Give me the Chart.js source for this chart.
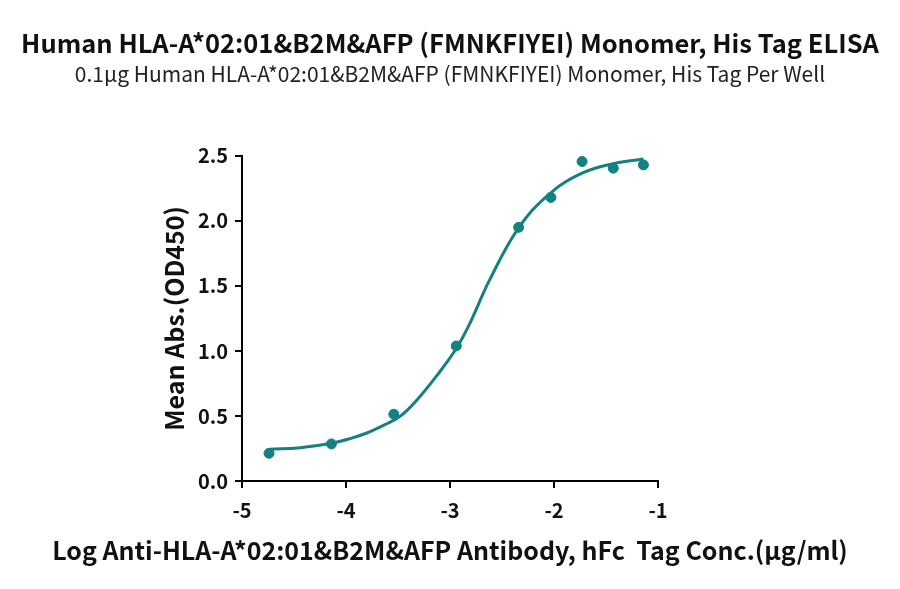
<!DOCTYPE html>
<html lang="en">
<head>
  <meta charset="UTF-8">
  <title>HLA-A*02:01&B2M&AFP ELISA</title>
  <style>
    body {
      margin: 0;
      background: #fff;
    }
    .chart-box {
      width: 900px;
      height: 589px;
    }
  </style>
</head>
<body>
  <div class="chart-box">
    <canvas id="elisaChart" width="900" height="589"></canvas>
  </div>

  <script src="https://cdn.jsdelivr.net/npm/chart.js"></script>
  <script>
    // measured points (log conc, OD450)
    const logConc = [-4.74, -4.14, -3.54, -2.94, -2.34, -2.03, -1.73, -1.43, -1.14];
    const meanAbs = [0.213, 0.285, 0.513, 1.038, 1.95, 2.18, 2.456, 2.405, 2.43];

    // fitted curve
    const fitX = [-4.73, -4.44, -4.14, -3.96, -3.80, -3.64, -3.48, -3.32, -3.10, -2.94, -2.81, -2.62, -2.34, -2.04, -1.72, -1.43, -1.14];
    const fitY = [0.244, 0.256, 0.290, 0.326, 0.369, 0.428, 0.497, 0.621, 0.838, 1.018, 1.21, 1.544, 1.946, 2.21, 2.37, 2.44, 2.475];

    const xTicks = [-5, -4, -3, -2, -1];
    const yTicks = [0, 0.5, 1.0, 1.5, 2.0, 2.5];

    const xTitle = 'Log Anti-HLA-A*02:01&B2M&AFP Antibody, hFc  Tag Conc.(μg/ml)';

    const teal = '#158080';
    const fontFamily = "'Noto Sans CJK SC', 'Noto Sans', sans-serif";

    const toXY = (xs, ys) => xs.map((x, i) => ({ x: x, y: ys[i] }));

    // the scale title gets squeezed to the plot width, so draw it ourselves
    const bottomTitle = {
      id: 'bottomTitle',
      afterDraw(chart) {
        const c = chart.ctx;
        const area = chart.chartArea;
        c.save();
        c.font = 'bold 25px ' + fontFamily;
        c.fillStyle = '#111';
        c.textAlign = 'center';
        c.textBaseline = 'middle';
        c.fillText(xTitle, (area.left + area.right) / 2, 550);
        c.restore();
      }
    };

    const ctx = document.getElementById('elisaChart').getContext('2d');
    new Chart(ctx, {
      type: 'scatter',
      data: {
        datasets: [{
          label: 'fit',
          data: toXY(fitX, fitY),
          showLine: true,
          borderColor: teal,
          borderWidth: 3,
          pointRadius: 0,
          tension: 0.4
        }, {
          label: 'points',
          data: toXY(logConc, meanAbs),
          showLine: false,
          backgroundColor: teal,
          borderColor: teal,
          pointRadius: 5
        }]
      },
      plugins: [bottomTitle],
      options: {
        responsive: false,
        animation: false,
        layout: {
          padding: { left: 0, right: 0, top: 0, bottom: 0 }
        },
        plugins: {
          legend: { display: false },
          tooltip: { enabled: false },
          title: {
            display: true,
            text: 'Human HLA-A*02:01&B2M&AFP (FMNKFIYEI) Monomer, His Tag ELISA',
            color: '#111',
            font: { family: fontFamily, size: 25.5, weight: 'bold' },
            padding: { top: 28, bottom: 3 }
          },
          subtitle: {
            display: true,
            text: '0.1μg Human HLA-A*02:01&B2M&AFP (FMNKFIYEI) Monomer, His Tag Per Well',
            color: '#222',
            font: { family: fontFamily, size: 21 },
            padding: { bottom: 69 }
          }
        },
        scales: {
          x: {
            type: 'linear',
            min: -5,
            max: -1,
            afterBuildTicks: scale => { scale.ticks = xTicks.map(v => ({ value: v })); },
            afterFit: scale => { scale.height = 108; },
            border: { display: true, color: '#000', width: 2 },
            grid: { drawOnChartArea: false, drawTicks: true, tickLength: 7, color: '#000', lineWidth: 2 },
            ticks: {
              color: '#111',
              padding: 10,
              font: { family: fontFamily, size: 20, weight: 'bold' }
            }
          },
          y: {
            min: 0,
            max: 2.5,
            afterBuildTicks: scale => { scale.ticks = yTicks.map(v => ({ value: v })); },
            afterFit: scale => { scale.width = 242; },
            border: { display: true, color: '#000', width: 2 },
            grid: { drawOnChartArea: false, drawTicks: true, tickLength: 7, color: '#000', lineWidth: 2 },
            ticks: {
              color: '#111',
              padding: 7,
              font: { family: fontFamily, size: 20, weight: 'bold' },
              callback: v => v.toFixed(1)
            },
            title: {
              display: true,
              text: 'Mean Abs.(OD450)',
              color: '#111',
              font: { family: fontFamily, size: 25, weight: 'bold' },
              padding: { top: 159, bottom: 0 }
            }
          },
          // empty right-hand axis so the plot and titles sit centred
          yRight: {
            position: 'right',
            min: 0,
            max: 2.5,
            afterFit: scale => { scale.width = 242; },
            border: { display: false },
            grid: { display: false },
            ticks: { display: false }
          }
        }
      }
    });
  </script>
</body>
</html>
